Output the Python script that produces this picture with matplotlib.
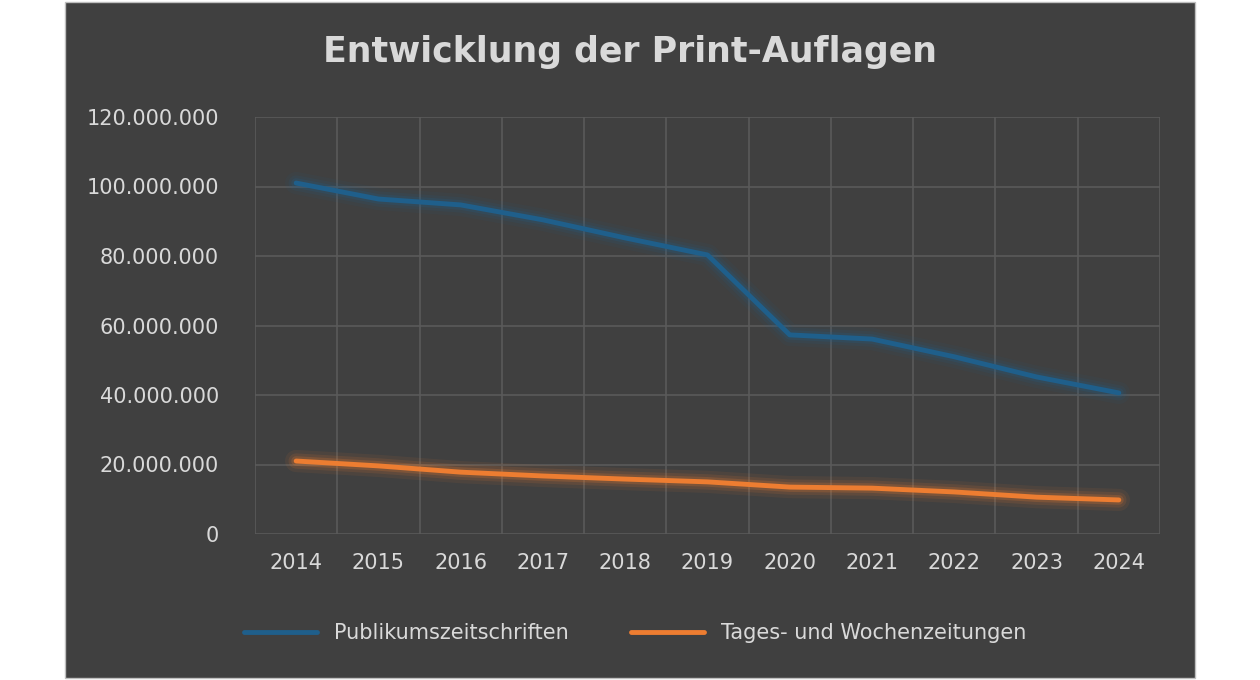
import matplotlib.pyplot as plt
import matplotlib.patches as mpatches
from matplotlib.ticker import FuncFormatter

years = [2014, 2015, 2016, 2017, 2018, 2019, 2020, 2021, 2022, 2023, 2024]
publikum = [101.0, 96.4, 94.7, 90.4, 85.2, 80.3, 57.3, 56.1, 51.0, 45.2, 40.6]
tages = [21.0, 19.6, 17.8, 16.7, 15.8, 15.0, 13.5, 13.2, 12.1, 10.6, 9.8]
publikum = [v * 1e6 for v in publikum]
tages = [v * 1e6 for v in tages]

bg = "#404040"
txt = "#d9d9d9"
blue = "#1f5f8b"
orange = "#ed7d31"

fig = plt.figure(figsize=(12.6, 6.8), dpi=100, facecolor="white")
bgrect = mpatches.Rectangle((65 / 1260, 2 / 680), 1130 / 1260, 676 / 680,
                            transform=fig.transFigure, facecolor=bg,
                            edgecolor="#bfbfbf", lw=1, zorder=-10)
fig.add_artist(bgrect)

ax = fig.add_axes([255 / 1260, 146 / 680, 905 / 1260, 417 / 680])
ax.set_zorder(5)
ax.set_facecolor(bg)
x = list(range(len(years)))

for y, c in [(publikum, blue), (tages, orange)]:
    for w, a in [(16, 0.08), (11, 0.12), (7, 0.2)]:
        ax.plot(x, y, color=c, lw=w, alpha=a, solid_capstyle="round")
ax.plot(x, publikum, color=blue, lw=3.5, solid_capstyle="round", label="Publikumszeitschriften")
ax.plot(x, tages, color=orange, lw=3.5, solid_capstyle="round", label="Tages- und Wochenzeitungen")

ax.set_xlim(-0.5, len(years) - 0.5)
ax.set_ylim(0, 120e6)
ax.set_yticks(range(0, 120000001, 20000000))
ax.yaxis.set_major_formatter(FuncFormatter(lambda v, p: f"{int(v):,}".replace(",", ".")))
ax.set_xticks([i - 0.5 for i in range(len(years) + 1)], minor=False)
ax.set_xticklabels([])
ax.set_xticks(x, minor=True)
ax.set_xticklabels(years, minor=True)
ax.grid(True, which="major", color="#5a5a5a", lw=1.2)
ax.tick_params(which="both", length=0, colors=txt, labelsize=15)
ax.tick_params(axis="x", which="minor", pad=14)
ax.tick_params(axis="y", pad=26)
for s in ax.spines.values():
    s.set_visible(False)

fig.text(630 / 1260, 1 - 52 / 680, "Entwicklung der Print-Auflagen", ha="center", va="center",
         fontsize=25, fontweight="bold", color=txt)
leg = fig.legend(loc="center", bbox_to_anchor=(635 / 1260, 1 - 633 / 680), ncol=2, frameon=False,
                 fontsize=15, labelcolor=txt, handlelength=3.5, columnspacing=3)
fig.savefig("out.png", dpi=100, facecolor="white")
